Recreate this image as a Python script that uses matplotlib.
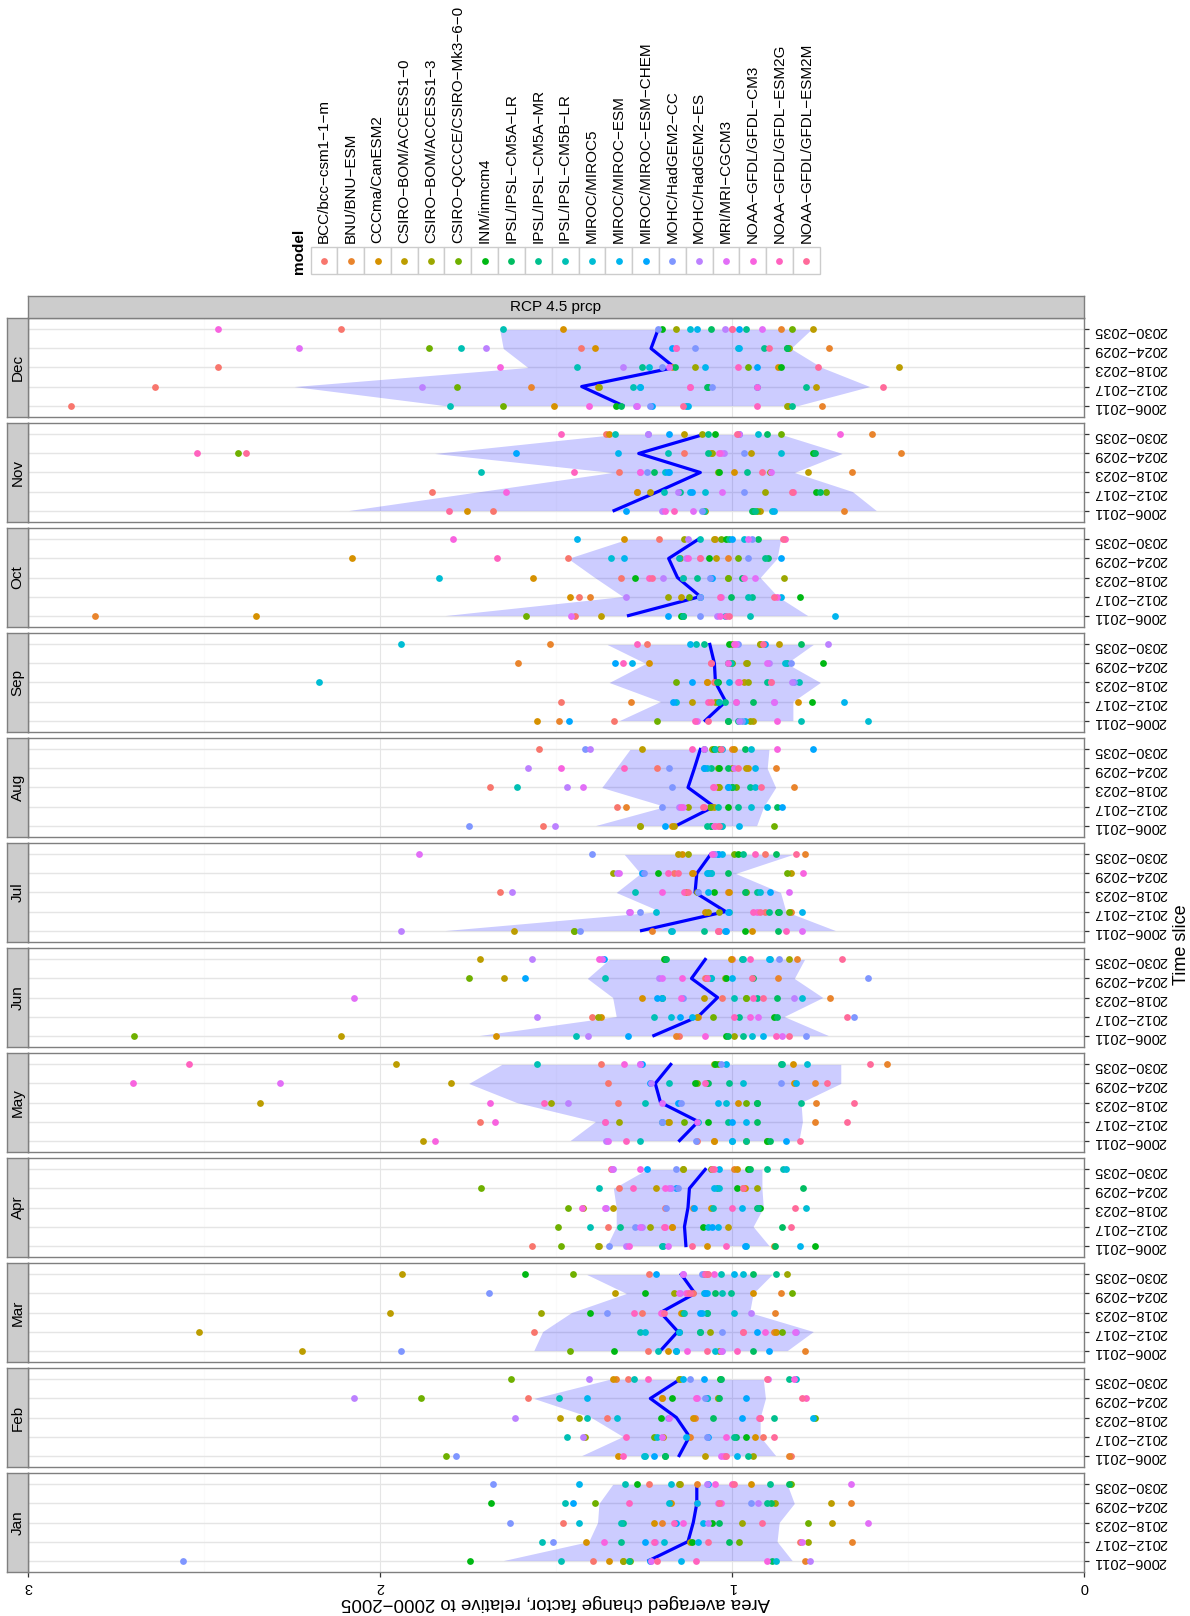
import numpy as np
import matplotlib
matplotlib.use("Agg")
import matplotlib.pyplot as plt
from matplotlib.patches import Rectangle

plt.rcParams["font.family"] = ["Liberation Sans", "DejaVu Sans"]

W, H = 1190, 1616

months = ["Jan", "Feb", "Mar", "Apr", "May", "Jun", "Jul", "Aug", "Sep", "Oct", "Nov", "Dec"]
slices = ["2006−2011", "2012−2017", "2018−2023", "2024−2029", "2030−2035"]
models = [
    "BCC/bcc−csm1−1−m", "BNU/BNU−ESM", "CCCma/CanESM2", "CSIRO−BOM/ACCESS1−0",
    "CSIRO−BOM/ACCESS1−3", "CSIRO−QCCCE/CSIRO−Mk3−6−0", "INM/inmcm4", "IPSL/IPSL−CM5A−LR",
    "IPSL/IPSL−CM5A−MR", "IPSL/IPSL−CM5B−LR", "MIROC/MIROC5", "MIROC/MIROC−ESM",
    "MIROC/MIROC−ESM−CHEM", "MOHC/HadGEM2−CC", "MOHC/HadGEM2−ES", "MRI/MRI−CGCM3",
    "NOAA−GFDL/GFDL−CM3", "NOAA−GFDL/GFDL−ESM2G", "NOAA−GFDL/GFDL−ESM2M",
]

# change factor per time slice (rows) and model (columns)
jan = [
    [1.394, 0.794, 1.349, 1.31, 1.31, 1.29, 1.744, 0.886, 1.294, 1.485, 0.876, 1.144, 1.232, 2.56, 0.778, 1.23, 0.901, 1.102, 1.213],
    [0.808, 0.658, 1.415, 1.12, 0.785, 0.979, 1.115, 1.008, 1.314, 1.54, 1.193, 1.096, 1.246, 1.509, 1.22, 0.80, 1.365, 1.222, 1.067],
    [1.481, 1.20, 1.222, 0.716, 0.973, 0.785, 1.057, 1.038, 1.31, 1.316, 1.436, 1.082, 1.158, 1.631, 1.067, 0.615, 1.139, 1.164, 0.915],
    [1.10, 0.662, 1.174, 0.72, 0.878, 1.388, 1.684, 0.888, 0.901, 1.475, 1.178, 1.10, 1.452, 0.946, 0.927, 1.04, 1.032, 1.294, 1.038],
    [1.236, 1.10, 0.946, 1.148, 1.15, 0.833, 1.271, 0.839, 0.891, 1.304, 1.174, 1.436, 1.067, 1.678, 1.07, 0.663, 1.047, 0.999, 0.995],
]
feb = [
    [0.833, 0.839, 1.323, 1.076, 0.94, 1.812, 1.189, 1.19, 0.954, 1.246, 1.25, 0.985, 1.222, 1.785, 1.02, 1.03, 1.022, 1.31, 1.018],
    [0.911, 1.12, 0.934, 1.197, 1.417, 1.222, 0.96, 0.989, 0.995, 1.47, 1.213, 1.13, 1.067, 1.07, 1.423, 1.2, 1.018, 1.30, 0.882],
    [1.355, 1.105, 1.11, 1.489, 1.436, 0.765, 1.203, 1.053, 0.882, 1.411, 1.326, 0.77, 0.973, 1.183, 1.616, 1.18, 0.921, 0.924, 0.92],
    [1.579, 1.199, 1.2, 1.04, 1.041, 1.884, 1.17, 1.038, 1.07, 1.491, 1.07, 1.411, 0.96, 1.076, 2.075, 1.10, 1.102, 0.79, 0.80],
    [1.296, 1.329, 1.339, 1.15, 1.148, 1.629, 1.033, 1.03, 0.839, 1.277, 0.817, 1.139, 1.08, 1.119, 1.407, 0.897, 0.823, 1.238, 0.901],
]
mar = [
    [1.238, 0.794, 1.183, 2.221, 1.038, 1.46, 1.335, 0.94, 1.158, 1.209, 1.047, 1.16, 0.895, 1.939, 1.028, 1.03, 1.129, 0.985, 1.07],
    [1.563, 0.88, 0.876, 2.513, 1.063, 0.858, 1.15, 1.09, 1.092, 1.261, 1.246, 1.15, 0.93, 1.028, 0.817, 0.82, 0.907, 0.969, 0.97],
    [1.255, 0.878, 1.144, 1.972, 1.544, 1.14, 1.402, 1.07, 1.07, 1.135, 0.995, 1.086, 1.09, 1.355, 0.946, 1.20, 1.203, 1.277, 1.193],
    [1.11, 0.862, 0.94, 1.331, 1.164, 0.829, 1.248, 1.047, 1.004, 1.028, 1.08, 1.07, 1.076, 1.691, 1.149, 1.15, 1.13, 1.125, 1.12],
    [1.236, 1.07, 1.08, 1.937, 0.843, 1.452, 1.588, 0.94, 0.876, 1.032, 0.969, 0.993, 1.216, 1.086, 1.139, 1.14, 1.051, 1.076, 1.067],
]
apr = [
    [1.567, 0.882, 1.07, 1.378, 1.38, 1.485, 0.765, 0.878, 1.2, 1.197, 0.96, 0.808, 0.964, 1.349, 1.30, 1.183, 1.294, 1.018, 1.115],
    [1.353, 1.17, 1.17, 1.012, 1.232, 1.493, 1.082, 0.858, 1.318, 1.403, 1.067, 1.041, 1.057, 1.275, 1.255, 1.26, 1.19, 1.193, 0.833],
    [1.19, 1.11, 1.06, 1.339, 1.423, 1.466, 0.921, 0.93, 0.927, 1.053, 0.79, 0.973, 1.109, 1.187, 1.359, 1.36, 1.427, 0.999, 0.82],
    [1.32, 0.97, 0.964, 1.216, 0.93, 1.713, 0.985, 0.798, 1.043, 1.378, 1.038, 1.05, 1.16, 1.154, 1.174, 1.18, 1.189, 1.28, 0.969],
    [1.345, 0.993, 0.985, 1.14, 1.139, 1.06, 0.954, 0.95, 0.901, 0.856, 0.847, 1.038, 1.242, 1.158, 1.337, 1.34, 1.261, 1.051, 1.057],
]
may = [
    [1.10, 1.051, 1.05, 1.878, 0.96, 0.90, 0.901, 0.891, 0.96, 1.261, 1.0, 0.999, 0.847, 1.102, 1.359, 1.353, 1.843, 1.30, 0.808],
    [1.715, 0.765, 1.183, 1.18, 1.32, 1.135, 1.067, 0.93, 1.012, 1.199, 1.096, 0.96, 0.999, 1.2, 1.36, 1.10, 1.674, 1.362, 0.672],
    [1.323, 0.761, 0.983, 2.342, 1.514, 0.96, 0.93, 0.93, 0.804, 1.246, 1.018, 1.041, 1.154, 1.144, 1.466, 1.2, 1.688, 1.534, 0.652],
    [1.353, 0.765, 0.823, 1.797, 1.07, 1.1, 1.105, 1.067, 1.008, 1.178, 0.969, 0.817, 1.232, 0.862, 1.23, 2.283, 2.702, 1.076, 0.73],
    [1.372, 0.56, 0.827, 1.954, 1.05, 1.04, 1.047, 0.86, 0.858, 1.553, 0.788, 1.018, 1.255, 1.032, 1.261, 1.26, 1.306, 2.542, 0.609],
]
jun = [
    [1.15, 1.16, 1.67, 2.112, 0.993, 2.698, 1.018, 1.012, 0.969, 1.442, 0.944, 0.911, 1.296, 0.79, 1.409, 0.858, 1.076, 0.876, 0.837],
    [1.398, 1.096, 1.372, 1.10, 1.382, 1.053, 0.88, 0.872, 0.979, 1.222, 1.174, 1.115, 1.149, 0.652, 1.553, 0.927, 0.95, 0.993, 0.672],
    [1.028, 0.722, 1.257, 1.08, 0.96, 0.96, 1.199, 0.872, 0.93, 0.993, 0.80, 1.2, 1.213, 1.14, 0.823, 2.073, 1.144, 0.94, 0.911],
    [1.076, 0.868, 1.07, 1.647, 1.02, 1.746, 1.018, 0.94, 1.061, 1.362, 1.06, 0.999, 1.589, 0.615, 1.207, 1.2, 1.141, 1.07, 0.944],
    [1.0, 0.814, 1.002, 1.717, 0.839, 1.19, 1.193, 1.187, 0.973, 0.97, 0.891, 0.895, 1.364, 0.866, 1.569, 1.37, 1.378, 0.95, 0.687],
]
jul = [
    [1.038, 1.228, 0.944, 1.618, 1.45, 1.45, 0.964, 0.868, 1.08, 1.174, 1.17, 1.02, 1.018, 1.433, 1.941, 0.80, 1.041, 0.847, 1.04],
    [0.905, 0.833, 1.076, 1.067, 1.038, 0.839, 0.87, 0.866, 0.895, 1.008, 1.216, 0.80, 1.01, 1.261, 1.294, 1.29, 0.93, 0.94, 0.92],
    [1.66, 1.01, 1.008, 1.13, 1.10, 0.96, 1.051, 0.964, 0.93, 1.275, 0.921, 1.067, 0.891, 1.096, 1.625, 0.837, 1.199, 1.135, 1.125],
    [1.164, 1.11, 1.115, 0.833, 1.339, 0.843, 1.209, 1.012, 1.067, 1.061, 1.06, 1.07, 1.257, 1.25, 1.326, 1.32, 0.798, 1.183, 1.154],
    [0.905, 0.794, 1.141, 1.154, 1.125, 0.993, 0.983, 0.876, 0.969, 1.051, 1.04, 1.028, 1.041, 1.398, 1.05, 1.888, 1.057, 0.934, 0.817],
]
aug = [
    [1.537, 1.26, 1.17, 1.164, 1.261, 0.882, 1.06, 1.061, 1.072, 1.028, 1.03, 0.979, 1.189, 1.748, 1.504, 1.05, 1.04, 1.047, 1.038],
    [1.326, 1.302, 1.06, 1.05, 1.125, 1.063, 1.012, 0.872, 0.983, 1.041, 0.946, 0.901, 0.858, 1.199, 1.15, 1.14, 1.144, 1.08, 1.082],
    [1.688, 0.823, 1.04, 1.04, 1.038, 0.989, 0.999, 1.0, 0.95, 1.61, 0.936, 1.01, 1.012, 1.17, 1.47, 1.423, 1.05, 1.053, 0.917],
    [1.213, 0.876, 0.954, 0.96, 1.0, 1.04, 1.038, 1.012, 1.061, 1.08, 1.07, 0.936, 1.08, 1.178, 1.579, 0.993, 1.485, 1.306, 0.983],
    [1.547, 1.0, 0.993, 1.255, 1.057, 1.038, 1.05, 0.964, 1.08, 1.047, 0.946, 1.028, 0.769, 1.417, 1.403, 1.08, 0.872, 1.115, 1.03],
]
sep = [
    [1.335, 1.491, 1.553, 0.94, 0.95, 1.213, 1.012, 1.01, 0.983, 0.804, 0.615, 0.964, 1.464, 0.973, 0.98, 1.10, 0.872, 1.105, 1.067],
    [1.485, 1.287, 0.813, 1.115, 1.047, 1.04, 0.774, 0.94, 1.02, 1.038, 1.16, 0.681, 1.168, 0.99, 0.882, 0.88, 0.989, 1.067, 1.06],
    [1.05, 1.07, 1.07, 0.965, 0.954, 1.16, 1.04, 1.043, 0.901, 0.809, 2.172, 1.008, 1.115, 0.823, 0.83, 0.89, 0.98, 0.983, 0.888],
    [1.061, 1.608, 1.236, 0.96, 0.956, 1.0, 0.741, 1.01, 0.843, 1.004, 0.85, 1.285, 1.333, 0.833, 0.895, 0.90, 1.012, 1.31, 1.06],
    [1.242, 1.518, 0.92, 0.866, 0.921, 1.0, 1.008, 0.804, 1.08, 1.102, 1.941, 1.119, 0.907, 0.983, 0.726, 0.99, 0.993, 1.271, 0.911],
]
oct_ = [
    [1.446, 2.809, 2.353, 1.372, 1.14, 1.584, 1.144, 1.139, 1.14, 0.948, 1.02, 0.706, 1.183, 1.092, 1.043, 1.456, 1.033, 1.018, 1.008],
    [1.436, 1.402, 1.46, 1.144, 1.183, 1.121, 0.808, 1.004, 0.944, 0.954, 1.09, 0.862, 1.09, 1.09, 1.30, 1.03, 0.872, 1.033, 0.882],
    [1.316, 1.14, 1.565, 1.012, 0.852, 1.01, 1.275, 0.973, 1.10, 1.139, 1.832, 1.06, 1.057, 1.063, 1.197, 0.936, 0.965, 1.236, 1.228],
    [1.467, 1.012, 2.079, 1.045, 1.148, 0.983, 1.065, 0.897, 0.907, 1.15, 1.343, 1.306, 0.86, 0.954, 1.13, 1.09, 1.125, 1.668, 1.09],
    [1.207, 1.047, 1.306, 1.05, 1.135, 1.032, 1.018, 0.927, 1.008, 1.09, 0.965, 1.44, 0.999, 0.944, 1.125, 0.954, 1.793, 0.849, 0.856],
]
nov = [
    [1.678, 0.681, 1.752, 0.92, 1.076, 0.93, 0.94, 0.944, 0.935, 1.08, 0.885, 0.882, 1.30, 1.086, 1.199, 1.111, 1.19, 1.164, 1.804],
    [1.851, 1.27, 1.271, 1.232, 0.907, 0.732, 0.761, 0.751, 1.149, 1.193, 1.076, 1.12, 1.115, 0.965, 1.154, 1.028, 1.641, 0.827, 0.83],
    [1.32, 0.658, 0.993, 0.785, 0.892, 1.04, 1.038, 1.222, 0.956, 1.713, 1.19, 1.18, 1.183, 1.242, 1.262, 0.888, 1.26, 1.45, 0.915],
    [1.135, 0.52, 1.06, 0.946, 1.057, 2.404, 0.771, 0.765, 1.067, 1.183, 0.862, 1.323, 1.615, 0.965, 1.022, 1.03, 1.038, 2.52, 2.381],
    [1.359, 0.601, 1.349, 1.135, 1.086, 0.862, 1.047, 0.90, 1.067, 1.333, 0.926, 0.979, 1.18, 1.24, 1.238, 0.98, 0.692, 1.485, 0.985],
]
dec = [
    [2.877, 0.743, 1.506, 0.84, 0.843, 1.65, 1.33, 1.314, 0.829, 1.80, 1.13, 1.125, 1.226, 1.232, 1.273, 1.27, 1.405, 0.93, 1.14],
    [2.64, 1.57, 1.38, 0.76, 1.378, 1.78, 1.067, 1.07, 0.79, 1.28, 1.26, 1.26, 0.928, 1.057, 1.88, 1.12, 0.93, 1.12, 0.57],
    [2.46, 1.17, 0.868, 0.525, 1.105, 0.954, 0.86, 1.163, 1.255, 1.44, 1.236, 1.076, 0.928, 1.20, 1.31, 1.18, 1.66, 0.983, 0.755],
    [1.43, 0.724, 1.39, 0.84, 0.837, 1.86, 0.843, 0.845, 0.91, 1.77, 0.983, 0.98, 1.17, 1.105, 1.70, 2.23, 1.16, 1.16, 0.895],
    [2.11, 0.86, 1.48, 0.77, 1.16, 0.83, 1.20, 1.06, 0.96, 1.65, 1.12, 1.10, 0.98, 1.21, 1.02, 0.915, 2.46, 1.00, 1.00],
]
month_values = [jan, feb, mar, apr, may, jun, jul, aug, sep, oct_, nov, dec]

# ensemble mean line and band (mean +/- sd) read per month, per time slice
band_mean = [
    [1.236, 1.125, 1.11, 1.10, 1.10],
    [1.15, 1.121, 1.158, 1.232, 1.148],
    [1.203, 1.154, 1.203, 1.105, 1.144],
    [1.131, 1.135, 1.125, 1.121, 1.076],
    [1.149, 1.096, 1.203, 1.218, 1.174],
    [1.222, 1.096, 1.041, 1.115, 1.076],
    [1.257, 1.018, 1.105, 1.10, 1.061],
    [1.158, 1.051, 1.125, 1.107, 1.09],
    [1.076, 1.018, 1.047, 1.05, 1.063],
    [1.294, 1.09, 1.155, 1.18, 1.096],
    [1.335, 1.21, 1.09, 1.265, 1.08],
    [1.31, 1.427, 1.163, 1.23, 1.21],
]
band_lo = [
    [0.829, 0.872, 0.866, 0.823, 0.843],
    [0.876, 0.92, 0.92, 0.905, 0.911],
    [0.843, 0.769, 0.95, 0.94, 0.886],
    [0.895, 0.94, 0.911, 0.915, 0.915],
    [0.81, 0.80, 0.804, 0.691, 0.691],
    [0.726, 0.852, 0.742, 0.823, 0.794],
    [0.706, 0.847, 0.862, 0.99, 0.827],
    [0.93, 0.91, 0.876, 0.90, 0.895],
    [0.827, 0.827, 0.749, 0.845, 0.769],
    [0.785, 0.87, 0.92, 0.872, 0.862],
    [0.59, 0.658, 0.823, 0.687, 0.86],
    [0.813, 0.609, 0.745, 0.833, 0.775],
]
band_hi = [
    [1.65, 1.407, 1.382, 1.378, 1.339],
    [1.427, 1.31, 1.40, 1.563, 1.349],
    [1.563, 1.538, 1.456, 1.30, 1.413],
    [1.355, 1.329, 1.329, 1.337, 1.242],
    [1.46, 1.388, 1.612, 1.748, 1.654],
    [1.719, 1.329, 1.339, 1.411, 1.349],
    [1.816, 1.203, 1.329, 1.26, 1.306],
    [1.388, 1.19, 1.37, 1.33, 1.29],
    [1.32, 1.203, 1.349, 1.245, 1.355],
    [1.816, 1.31, 1.39, 1.466, 1.30],
    [2.09, 1.715, 1.34, 1.845, 1.33],
    [1.816, 2.244, 1.58, 1.65, 1.66],
]


def hue_pal(n, h0=15.0, c=100.0, l=65.0):
    """ggplot-style evenly spaced HCL hues (polar CIE-Luv -> sRGB)."""
    xn, yn, zn = 95.047, 100.0, 108.883
    den = xn + 15 * yn + 3 * zn
    un, vn = 4 * xn / den, 9 * yn / den
    cols = []
    for i in range(n):
        h = np.radians(h0 + i * 360.0 / n)
        u, v = c * np.cos(h), c * np.sin(h)
        y = yn * ((l + 16) / 116) ** 3
        up, vp = u / (13 * l) + un, v / (13 * l) + vn
        x = 9 * y * up / (4 * vp)
        z = -x / 3 - 5 * y + 3 * y / vp
        x, y, z = x / 100, y / 100, z / 100
        rgb = [3.240479 * x - 1.537150 * y - 0.498535 * z,
               -0.969256 * x + 1.875992 * y + 0.041556 * z,
               0.055648 * x - 0.204043 * y + 1.057311 * z]
        out = []
        for ch in rgb:
            ch = 1.055 * ch ** (1 / 2.4) - 0.055 if ch > 0.0031308 else 12.92 * ch
            out.append(min(max(ch, 0.0), 1.0))
        cols.append(tuple(out))
    return cols


colors = hue_pal(len(models))

fig = plt.figure(figsize=(W / 100, H / 100), dpi=100)


def px_axes(x0, y0, x1, y1):
    return fig.add_axes([x0 / W, 1 - y1 / H, (x1 - x0) / W, (y1 - y0) / H])


PX0, PX1 = 28, 1084
TOP, PH, GAP = 318, 99, 6
pos = np.arange(1, len(slices) + 1)
ms = 24

for k, mon in enumerate(months[::-1]):
    mi = len(months) - 1 - k
    y0 = TOP + k * (PH + GAP)
    ax = px_axes(PX0, y0, PX1, y0 + PH)
    ax.set_xlim(3, 0)
    ax.set_ylim(0.4, 5.6)
    for g in (0.5, 1.5, 2.5):
        ax.axvline(g, color="#fafafa", lw=0.8, zorder=0)
    for g in (0, 1, 2, 3):
        ax.axvline(g, color="#e5e5e5", lw=0.8, zorder=0)
    for p in pos:
        ax.axhline(p, color="#e5e5e5", lw=1.0, zorder=0)

    ax.fill_betweenx(pos, band_lo[mi], band_hi[mi], color="blue", alpha=0.2, lw=0, zorder=1)
    ax.plot(band_mean[mi], pos, color="blue", lw=2.3, zorder=2)
    vals = np.array(month_values[mi])
    for j in range(len(models)):
        ax.scatter(vals[:, j], pos, s=ms, color=colors[j], lw=0, zorder=3)

    for s in ax.spines.values():
        s.set_color("#7f7f7f")
        s.set_linewidth(1.0)
    ax.yaxis.tick_right()
    ax.set_yticks(pos)
    ax.set_yticklabels(slices, rotation=180, fontsize=10.5)
    ax.tick_params(axis="y", length=3.5, width=0.9, color="#333333", pad=3)
    ax.set_xticks([0, 1, 2, 3])
    if mon == "Jan":
        ax.set_xticklabels(["0", "1", "2", "3"], rotation=180, fontsize=10.5)
        ax.tick_params(axis="x", length=3.5, width=0.9, color="#333333", pad=2)
    else:
        ax.tick_params(axis="x", length=0, labelbottom=False)

    st = px_axes(7, y0, PX0, y0 + PH)
    st.set_facecolor("#cccccc")
    st.set_xticks([])
    st.set_yticks([])
    for s in st.spines.values():
        s.set_color("#7f7f7f")
        s.set_linewidth(1.0)
    st.text(0.5, 0.5, mon, rotation=90, ha="center", va="center", fontsize=11, transform=st.transAxes)

top = px_axes(PX0, 296, PX1, 318)
top.set_facecolor("#cccccc")
top.set_xticks([])
top.set_yticks([])
for s in top.spines.values():
    s.set_color("#7f7f7f")
    s.set_linewidth(1.0)
top.text(0.5, 0.5, "RCP 4.5 prcp", ha="center", va="center", fontsize=11, transform=top.transAxes)

fig.text(556 / W, 1 - 1603 / H, "Area averaged change factor, relative to 2000−2005",
         rotation=180, ha="center", va="center", fontsize=13.4)
fig.text(1182 / W, 1 - 945 / H, "Time slice", rotation=90, ha="center", va="center", fontsize=13)

# legend, drawn in pixel coordinates
lg = px_axes(280, 0, 840, 290)
lg.set_xlim(280, 840)
lg.set_ylim(290, 0)
lg.axis("off")
kx0, kw, ky0, ky1 = 310.5, 26.8, 247, 274
for i, name in enumerate(models):
    cx = kx0 + kw * (i + 0.5)
    lg.add_patch(Rectangle((kx0 + kw * i, ky0), kw, ky1 - ky0, facecolor="white",
                           edgecolor="#cccccc", lw=1.0))
    lg.scatter([cx], [(ky0 + ky1) / 2], s=ms, color=colors[i], lw=0, zorder=3)
    lg.text(cx, ky0 - 4, name, rotation=90, ha="center", va="bottom", fontsize=11)
lg.text(299, ky1, "model", rotation=90, ha="center", va="bottom", fontsize=11, fontweight="bold")

fig.savefig("out.png", dpi=100)
